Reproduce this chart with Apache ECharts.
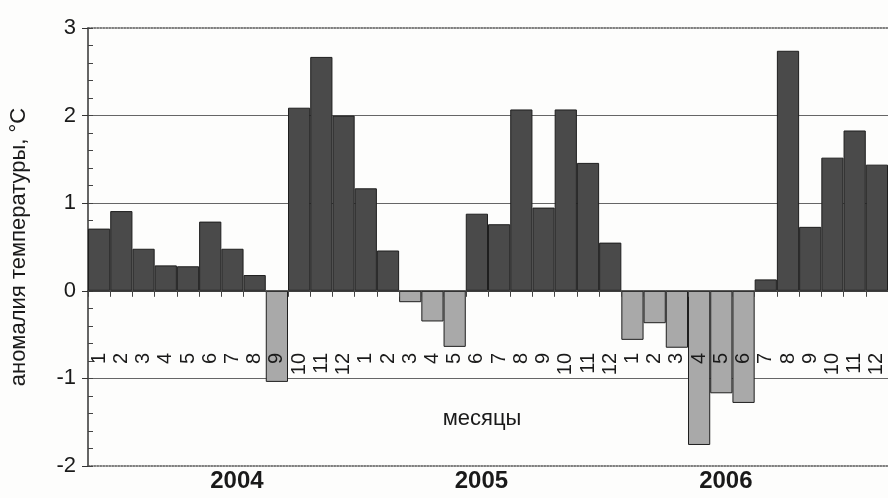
<!DOCTYPE html>
<html>
<head>
<meta charset="utf-8">
<script src="https://cdn.jsdelivr.net/npm/echarts@6/dist/echarts.min.js"></script>
<style>
html,body{margin:0;padding:0;background:#fdfdfc;}
#chart{width:888px;height:498px;}
</style>
</head>
<body>
<div id="chart"></div>
<script>
// ---- data ----
const years = ['2004', '2005', '2006'];
const monthNames = ['1','2','3','4','5','6','7','8','9','10','11','12'];
const anomaly2004 = [0.71, 0.91, 0.48, 0.29, 0.28, 0.79, 0.48, 0.18, -1.04, 2.09, 2.67, 2.00];
const anomaly2005 = [1.17, 0.46, -0.13, -0.35, -0.64, 0.88, 0.76, 2.07, 0.95, 2.07, 1.46, 0.55];
const anomaly2006 = [-0.56, -0.37, -0.65, -1.76, -1.17, -1.28, 0.13, 2.74, 0.73, 1.52, 1.83, 1.44];
const yTicks = [-2, -1, 0, 1, 2, 3];
// index (within the 36 months) under which each year label sits
const yearLabelIndex = [6, 17, 28];

const categories = [].concat(monthNames, monthNames, monthNames);
const values = [].concat(anomaly2004, anomaly2005, anomaly2006);
const yearTickLabels = categories.map(function (_, i) {
  const k = yearLabelIndex.indexOf(i);
  return k >= 0 ? years[k] : '';
});

const FONT = '"Liberation Sans", Arial, sans-serif';
const chart = echarts.init(document.getElementById('chart'), null, {renderer: 'canvas'});

chart.setOption({
  backgroundColor: '#fdfdfc',
  animation: false,
  grid: {left: 85, top: 28, width: 807, height: 438, containLabel: false},
  xAxis: [
    { // zero line with boundary ticks
      type: 'category', data: categories, position: 'bottom', z: 6,
      axisLine: {onZero: true, lineStyle: {color: '#333', width: 1.5}},
      axisTick: {show: true, length: 6, lineStyle: {color: '#444', width: 1}},
      axisLabel: {show: false}, splitLine: {show: false}
    },
    { // month numbers inside the plot
      type: 'category', data: categories, position: 'bottom', offset: -113, z: 6,
      axisLine: {show: false, onZero: false}, axisTick: {show: false},
      axisLabel: {show: true, rotate: 90, margin: 0, interval: 0,
        fontFamily: FONT, fontSize: 20, color: '#1a1a1a'},
      name: 'месяцы', nameLocation: 'middle', nameGap: 55,
      nameTextStyle: {fontFamily: FONT, fontSize: 22, color: '#1a1a1a', padding: [0, 12, 0, 0]}
    },
    { // bottom frame with years
      type: 'category', data: yearTickLabels, position: 'bottom',
      axisLine: {show: true, onZero: false, lineStyle: {color: '#555', width: 1.5, type: 'dotted'}},
      axisTick: {show: false},
      axisLabel: {show: true, interval: 0, margin: 3, fontFamily: FONT,
        fontSize: 24, fontWeight: 'bold', color: '#1a1a1a', padding: [0, 0, 0, 9]}
    },
    { // top frame
      type: 'category', data: categories, position: 'top',
      axisLine: {show: true, onZero: false, lineStyle: {color: '#555', width: 1.5, type: 'dotted'}},
      axisTick: {show: false}, axisLabel: {show: false}
    }
  ],
  yAxis: [
    {
      type: 'value', min: yTicks[0], max: yTicks[yTicks.length - 1], interval: 1,
      position: 'left',
      axisLine: {show: true, onZero: false, lineStyle: {color: '#333', width: 1.5}},
      axisTick: {show: true, length: 6, lineStyle: {color: '#333'}},
      axisLabel: {fontFamily: FONT, fontSize: 22, color: '#1a1a1a', margin: 12},
      splitLine: {show: true, showMinLine: false, showMaxLine: false,
        lineStyle: {color: '#666', width: 1.2}},
      name: 'аномалия температуры, °C', nameLocation: 'middle', nameGap: 58,
      nameRotate: 90,
      nameTextStyle: {fontFamily: FONT, fontSize: 22, color: '#1a1a1a'}
    },
    { // minor ticks inside
      type: 'value', min: yTicks[0], max: yTicks[yTicks.length - 1], interval: 0.2,
      position: 'left',
      axisLine: {show: false}, axisLabel: {show: false}, splitLine: {show: false},
      axisTick: {show: true, inside: true, length: 5, lineStyle: {color: '#444'}}
    }
  ],
  series: [{
    type: 'bar', data: values, xAxisIndex: 0, yAxisIndex: 0,
    barCategoryGap: '0%', z: 2,
    itemStyle: {
      color: function (p) { return p.value >= 0 ? '#4a4a4a' : '#a9a9a9'; },
      borderColor: '#1e1e1e', borderWidth: 1
    }
  }]
});
</script>
</body>
</html>
